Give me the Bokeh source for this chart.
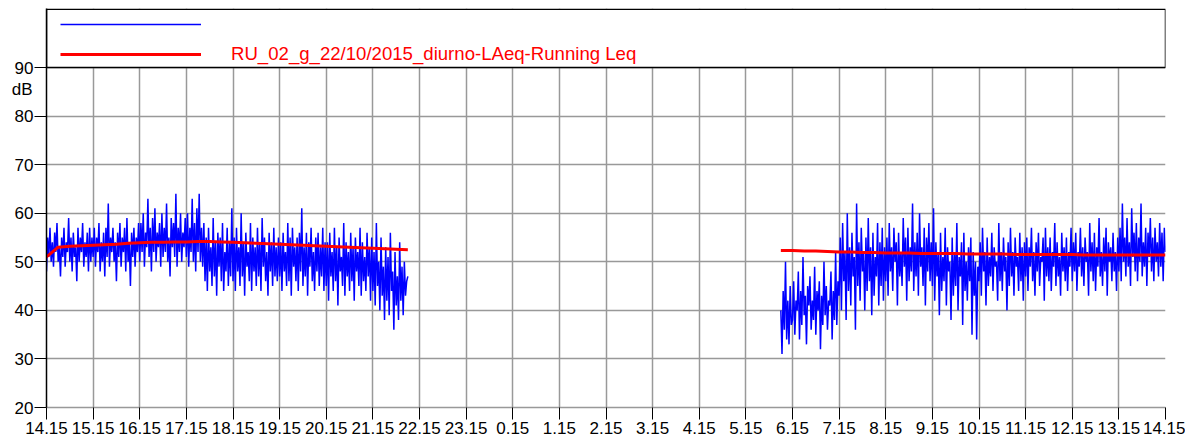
import numpy as np
from bokeh.plotting import figure
from bokeh.models import Range1d, FixedTicker, Legend, LegendItem, LinearAxis
from bokeh.embed import file_html
from bokeh.resources import INLINE

# ---- data ----
hour_labels = ["14.15", "15.15", "16.15", "17.15", "18.15", "19.15", "20.15", "21.15",
               "22.15", "23.15", "0.15", "1.15", "2.15", "3.15", "4.15", "5.15", "6.15",
               "7.15", "8.15", "9.15", "10.15", "11.15", "12.15", "13.15", "14.15"]
y_ticks = [20, 30, 40, 50, 60, 70, 80, 90]
unit_label = "dB"
unit_label_pos = 85.5

# LAeq samples every 1.5 minutes (hours counted from 14:15)
seg1_start = 0.0      # 14:15
seg2_start = 15.75    # 06:00
step = 0.025          # 1.5 minutes

laeq_seg1 = [
    48, 55, 51, 57, 50, 54, 49, 56, 52, 58, 50, 53, 47, 55, 51, 57, 49, 54, 52, 59,
    50, 55, 48, 56, 51, 53, 46, 57, 50, 55, 52, 58, 49, 54, 51, 56, 48, 57, 50, 55,
    51, 57, 49, 55, 52, 58, 48, 54, 50, 56, 47, 57, 51, 62, 49, 55, 52, 57, 50, 54,
    46, 56, 51, 58, 49, 55, 52, 57, 48, 59, 50, 54, 45, 56, 51, 57, 49, 55, 52, 58,
    50, 58, 52, 60, 49, 56, 53, 63, 51, 57, 48, 59, 52, 61, 50, 56, 53, 58, 49, 60,
    51, 57, 52, 62, 50, 55, 47, 59, 53, 58, 51, 64, 49, 57, 52, 60, 50, 56, 53, 59,
    51, 60, 49, 57, 52, 63, 50, 58, 48, 61, 52, 64, 50, 57, 49, 58, 46, 55, 44, 57,
    48, 53, 45, 59, 47, 54, 43, 56, 49, 55, 46, 58, 44, 52, 48, 57, 45, 54, 47, 61,
    46, 55, 44, 57, 48, 53, 45, 60, 47, 54, 43, 56, 49, 52, 46, 58, 44, 55, 48, 53,
    45, 57, 47, 54, 44, 59, 49, 55, 46, 52, 43, 56, 48, 54, 45, 57, 47, 53, 46, 55,
    47, 54, 44, 56, 48, 52, 45, 58, 46, 55, 43, 57, 49, 53, 46, 55, 44, 56, 48, 61,
    45, 53, 47, 56, 43, 54, 49, 57, 46, 52, 44, 55, 48, 56, 45, 53, 47, 57, 44, 54,
    45, 54, 42, 56, 47, 52, 44, 57, 46, 53, 41, 55, 48, 51, 45, 58, 43, 54, 47, 52,
    44, 56, 46, 53, 42, 55, 48, 52, 45, 57, 43, 54, 46, 51, 44, 56, 47, 53, 42, 55,
    44, 52, 41, 58, 45, 50, 40, 55, 43, 49, 38, 53, 42, 51, 39, 56, 44, 48, 36, 52,
    41, 47, 38, 54, 42, 49, 39, 50, 43, 46, 47,
]
laeq_seg2 = [
    40, 31, 44, 36, 50, 34, 42, 33, 45, 37,
    38, 46, 35, 42, 40, 48, 34, 44, 37, 51, 39, 43, 33, 45, 41, 47, 36, 42, 38, 49,
    35, 44, 40, 46, 32, 43, 37, 50, 39, 45, 36, 42, 41, 48, 34, 44, 38, 52, 37, 46,
    43, 55, 40, 58, 46, 52, 38, 60, 44, 53, 41, 56, 47, 51, 36, 62, 45, 54, 42, 57,
    48, 52, 40, 55, 44, 59, 46, 53, 39, 56, 43, 51, 47, 58, 41, 54, 45, 57, 42, 53,
    46, 55, 43, 58, 48, 53, 44, 57, 50, 54, 41, 56, 47, 52, 45, 59, 49, 55, 42, 57,
    46, 53, 48, 62, 44, 54, 47, 56, 43, 60, 49, 53, 45, 57, 41, 55, 48, 58, 46, 54,
    45, 61, 42, 54, 47, 52, 39, 56, 44, 51, 46, 57, 41, 53, 48, 50, 38, 55, 43, 52,
    45, 58, 40, 51, 47, 54, 37, 56, 44, 50, 42, 53, 46, 55, 35, 52, 43, 50, 34, 49,
    46, 54, 43, 57, 48, 52, 41, 55, 45, 51, 47, 56, 44, 53, 49, 50, 42, 58, 46, 52,
    44, 55, 48, 51, 40, 54, 45, 57, 47, 52, 43, 55, 49, 51, 44, 56, 46, 53, 42, 54,
    47, 55, 44, 53, 49, 57, 46, 52, 43, 54, 48, 56, 45, 51, 50, 55, 42, 57, 47, 53,
    46, 55, 44, 52, 49, 58, 45, 54, 47, 51, 43, 56, 48, 53, 46, 55, 44, 52, 49, 57,
    46, 54, 48, 56, 44, 52, 49, 57, 47, 53, 45, 55, 50, 52, 43, 58, 48, 54, 46, 56,
    44, 53, 49, 59, 47, 52, 45, 55, 48, 57, 43, 54, 50, 53, 46, 56, 48, 52, 44, 55,
    48, 57, 46, 62, 50, 55, 47, 59, 49, 54, 45, 61, 51, 56, 48, 58, 46, 55, 50, 62,
    47, 54, 49, 57, 45, 56, 51, 59, 48, 55, 46, 57, 50, 54, 47, 58, 49, 56, 46, 57,
    52,
]

# Running Leq every 15 minutes
leq_step = 0.25
leq_seg1 = [51.0, 53.0, 53.2, 53.3, 53.4, 53.5, 53.6, 53.8, 53.9, 54.0, 54.0, 54.1,
            54.1, 54.2, 54.2, 54.1, 54.0, 53.9, 53.8, 53.7, 53.6, 53.5, 53.4, 53.3,
            53.2, 53.1, 53.0, 52.9, 52.8, 52.7, 52.6, 52.5]
leq_seg2 = [52.3, 52.3, 52.2, 52.2, 52.1, 52.0, 52.0, 51.9, 51.9, 51.8, 51.8, 51.8,
            51.7, 51.7, 51.7, 51.7, 51.6, 51.6, 51.6, 51.6, 51.5, 51.5, 51.5, 51.5,
            51.5, 51.5, 51.4, 51.4, 51.4, 51.4, 51.4, 51.4, 51.4, 51.4]

legend_label = "RU_02_g_22/10/2015_diurno-LAeq-Running Leq"

# ---- build series ----
t1 = seg1_start + np.arange(len(laeq_seg1)) * step
t2 = seg2_start + np.arange(len(laeq_seg2)) * step
bx = np.concatenate([t1, [np.nan], t2])
by = np.concatenate([np.array(laeq_seg1, float), [np.nan], np.array(laeq_seg2, float)])

r1 = seg1_start + np.arange(len(leq_seg1)) * leq_step
r2 = seg2_start + np.arange(len(leq_seg2)) * leq_step
rx = np.concatenate([r1, [np.nan], r2])
ry = np.concatenate([leq_seg1, [np.nan], leq_seg2])

FONT = "Liberation Sans"

p = figure(width=1185, height=441, x_range=Range1d(0, 24), y_range=Range1d(20, 102.15),
           output_backend="svg", toolbar_location=None,
           min_border_left=46, min_border_right=20, min_border_top=8, min_border_bottom=34)
p.outline_line_color = None
p.background_fill_color = "white"
p.border_fill_color = "white"

xt = FixedTicker(ticks=list(range(len(hour_labels))))
yt = FixedTicker(ticks=y_ticks)
p.xaxis.ticker = xt
p.yaxis.ticker = yt
p.xgrid.ticker = xt
p.ygrid.ticker = yt
for g in (p.xgrid, p.ygrid):
    g.grid_line_color = "#999999"
    g.grid_line_width = 1.5

p.xaxis.major_label_overrides = {i: lab for i, lab in enumerate(hour_labels)}
for ax in (p.xaxis, p.yaxis):
    ax.major_label_text_font = FONT
    ax.major_label_text_font_size = "17px"
    ax.major_label_text_color = "black"
    ax.major_tick_in = 0
    ax.minor_tick_line_color = None
    ax.major_tick_line_color = "black"
    ax.major_tick_line_width = 1
p.xaxis.major_tick_out = 12
p.xaxis.major_label_standoff = 2
p.xaxis.axis_line_color = "#999999"
p.xaxis.axis_line_width = 1.5
p.yaxis.major_tick_out = 12
p.yaxis.major_label_standoff = 1
p.yaxis.axis_line_color = "black"
p.yaxis.axis_line_width = 1.5

# unit label "dB": a second left axis (outside the numeric one), pulled back
# towards the frame with a negative standoff so it sits under the tick labels column
unit_axis = LinearAxis(ticker=FixedTicker(ticks=[unit_label_pos]),
                       major_label_overrides={unit_label_pos: unit_label},
                       axis_line_color=None, major_tick_line_color=None,
                       major_tick_out=0, major_tick_in=0,
                       minor_tick_line_color=None, major_label_standoff=-21,
                       major_label_text_font=FONT, major_label_text_font_size="17px",
                       major_label_text_color="black")
p.add_layout(unit_axis, "left")

# legend frame above the plot area
p.quad(left=0, right=24, bottom=90, top=102.0, fill_color="white",
       line_color="black", line_width=1.5)

blue = p.line(bx, by, line_color="#0000ff", line_width=1.5)
red = p.line(rx, ry, line_color="#ff0000", line_width=3)

legend = Legend(items=[LegendItem(label=" ", renderers=[blue]),
                       LegendItem(label=legend_label, renderers=[red])],
                location=(14, 342), orientation="vertical",
                glyph_width=141, glyph_height=20, label_height=20,
                label_standoff=30, padding=4, spacing=9, margin=0,
                border_line_color=None, background_fill_alpha=0,
                label_text_color="#ff0000", label_text_font=FONT,
                label_text_font_size="18.6px")
p.add_layout(legend)

open("out.html", "w").write(file_html(p, INLINE))
